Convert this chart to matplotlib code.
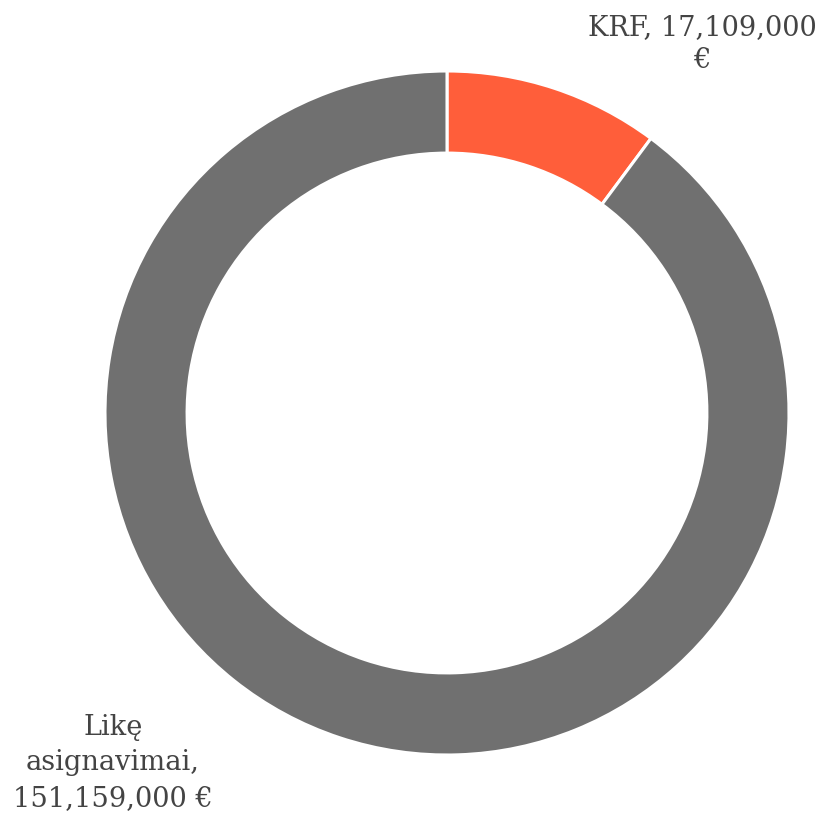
import matplotlib.pyplot as plt

labels = ["KRF, 17,109,000\n€", "Likę\nasignavimai,\n151,159,000 €"]
values = [17109000, 151159000]
colors = ["#ff5e3a", "#707070"]

W, H = 823, 819
cx, cy = 447, 413   # pie centre in pixels (from top-left)
R = 342.0           # outer radius in pixels

fig = plt.figure(figsize=(W / 100, H / 100), dpi=100)
ax = fig.add_axes([0, 0, 1, 1])
ax.pie(values, colors=colors, startangle=90, counterclock=False, radius=1,
       wedgeprops=dict(width=0.24, edgecolor="white", linewidth=2.2))
ax.set_xlim(-cx / R, (W - cx) / R)
ax.set_ylim(-(H - cy) / R, cy / R)
ax.set_aspect("equal")
ax.axis("off")

def px(x, y):
    return (x - cx) / R, (cy - y) / R

tx, ty = px(702, 44)
ax.text(tx, ty, labels[0], ha="center", va="center", fontsize=19.6,
        family="DejaVu Serif", color="#444444", linespacing=1.25)
tx, ty = px(113, 763)
ax.text(tx, ty, labels[1], ha="center", va="center", fontsize=19.6,
        family="DejaVu Serif", color="#444444", linespacing=1.4)

fig.savefig("out.png", dpi=100)
